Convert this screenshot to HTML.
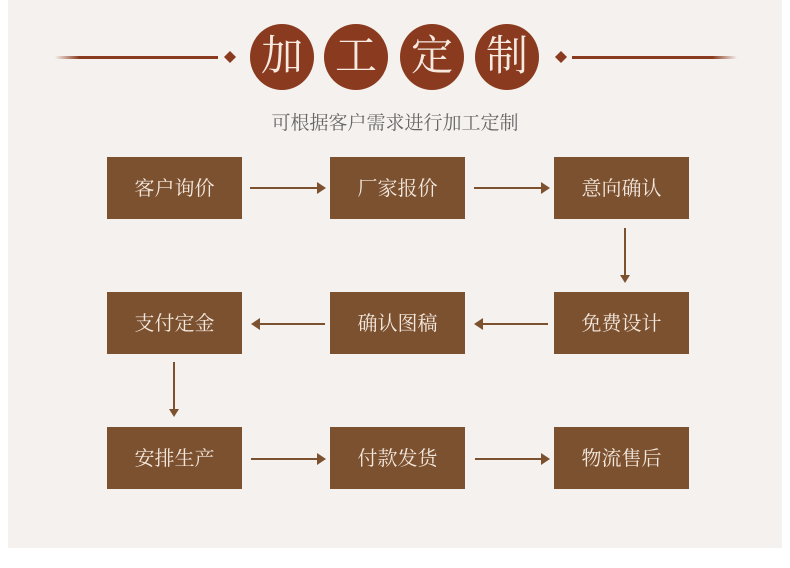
<!DOCTYPE html>
<html><head><meta charset="utf-8"><style>
body{margin:0;width:790px;height:568px;background:#fff;position:relative;overflow:hidden;font-family:"Liberation Serif","Noto Serif CJK SC",serif}
.bg{position:absolute;left:8px;top:0;width:774px;height:548px;background:#f5f1ee}
.c{position:absolute;top:24px;width:64px;height:66px;border-radius:50%;background:#8a3a1f;color:#f5e9e0;font-size:42px;line-height:66px;text-align:center}
.b{position:absolute;width:135px;height:62px;background:#7c5130;color:#f3e8de;font-size:20px;line-height:64px;text-align:center}
.t{position:absolute;left:0;width:790px;top:108px;text-align:center;font-size:19px;color:#666}
svg{position:absolute;left:0;top:0}
</style></head><body>
<div class="bg"></div>
<svg width="790" height="568">
<defs><linearGradient id="gl" x1="0" x2="1"><stop offset="0" stop-color="#8a3a1f" stop-opacity="0"/><stop offset="0.15" stop-color="#8a3a1f"/><stop offset="1" stop-color="#8a3a1f"/></linearGradient>
<linearGradient id="gr" x1="1" x2="0"><stop offset="0" stop-color="#8a3a1f" stop-opacity="0"/><stop offset="0.15" stop-color="#8a3a1f"/><stop offset="1" stop-color="#8a3a1f"/></linearGradient></defs>
<rect x="55" y="56" width="163" height="3" fill="url(#gl)"/>
<rect x="572" y="56" width="165" height="3" fill="url(#gr)"/>
<polygon points="230,51 236,57 230,63 224,57" fill="#8a3a1f"/>
<polygon points="561,51 567,57 561,63 555,57" fill="#8a3a1f"/>
<g stroke="#7c5130" stroke-width="2" fill="#7c5130">
<line x1="250" y1="188" x2="318" y2="188"/><polygon points="326,188 317,182 317,194" stroke="none"/>
<line x1="474" y1="188" x2="542" y2="188"/><polygon points="550,188 541,182 541,194" stroke="none"/>
<line x1="625" y1="228" x2="625" y2="276"/><polygon points="625,283 620,275 630,275" stroke="none"/>
<line x1="548" y1="324" x2="482" y2="324"/><polygon points="474,324 483,318 483,330" stroke="none"/>
<line x1="325" y1="324" x2="259" y2="324"/><polygon points="251,324 260,318 260,330" stroke="none"/>
<line x1="174" y1="362" x2="174" y2="410"/><polygon points="174,417 169,409 179,409" stroke="none"/>
<line x1="251" y1="459" x2="318" y2="459"/><polygon points="326,459 317,453 317,465" stroke="none"/>
<line x1="475" y1="459" x2="542" y2="459"/><polygon points="550,459 541,453 541,465" stroke="none"/>
</g>
</svg>
<div class="c" style="left:250px">加</div>
<div class="c" style="left:324px">工</div>
<div class="c" style="left:400px">定</div>
<div class="c" style="left:475px">制</div>
<div class="t">可根据客户需求进行加工定制</div>
<div class="b" style="left:107px;top:157px">客户询价</div>
<div class="b" style="left:330px;top:157px">厂家报价</div>
<div class="b" style="left:554px;top:157px">意向确认</div>
<div class="b" style="left:107px;top:292px">支付定金</div>
<div class="b" style="left:330px;top:292px">确认图稿</div>
<div class="b" style="left:554px;top:292px">免费设计</div>
<div class="b" style="left:107px;top:427px">安排生产</div>
<div class="b" style="left:330px;top:427px">付款发货</div>
<div class="b" style="left:554px;top:427px">物流售后</div>
</body></html>
